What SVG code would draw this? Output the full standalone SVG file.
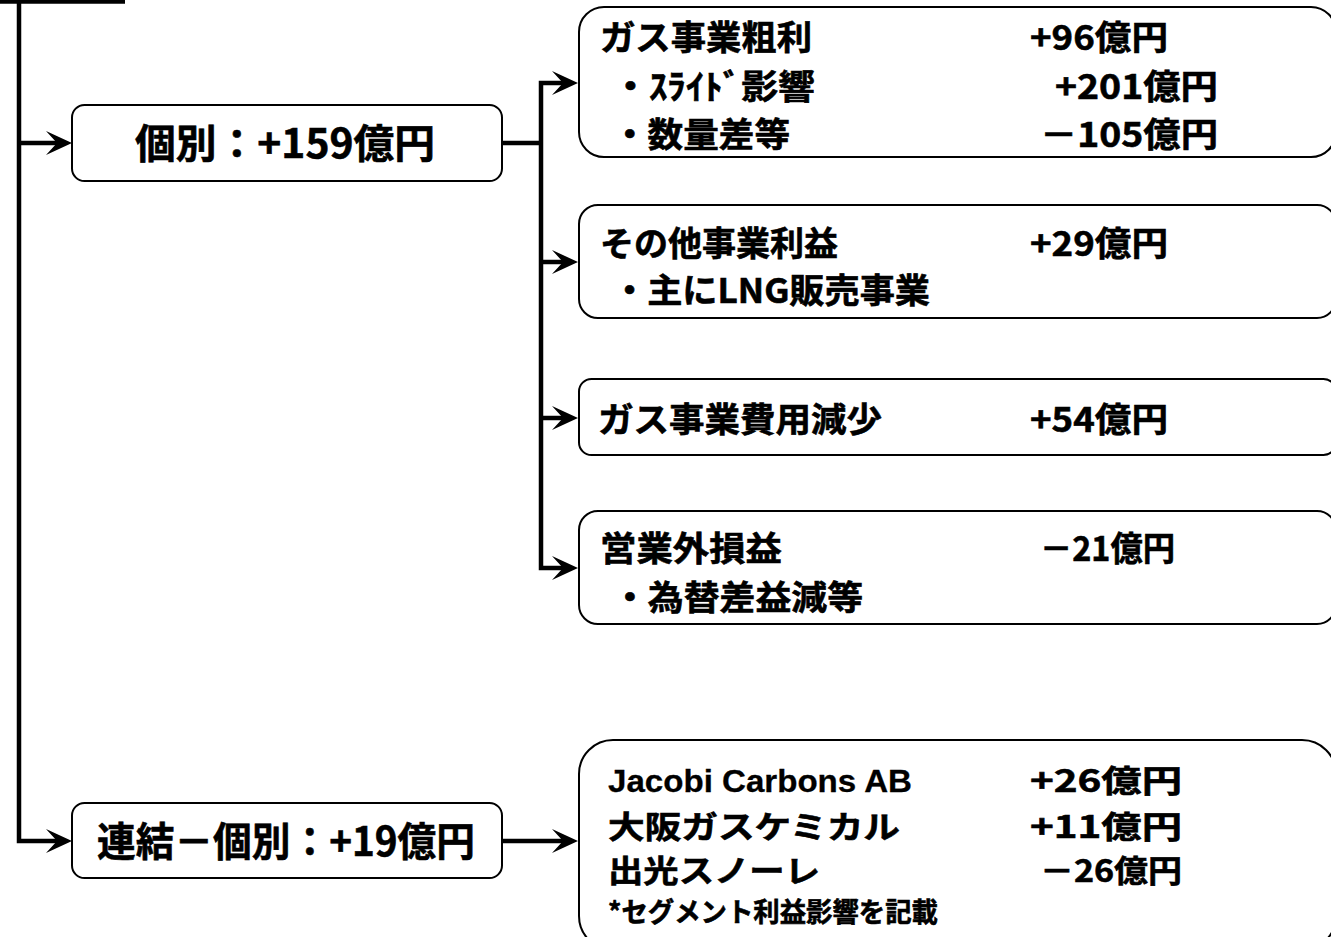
<svg xmlns="http://www.w3.org/2000/svg" width="1331" height="937" viewBox="0 0 1331 937">
<style>
.box{fill:#fff;stroke:#000;stroke-width:2}
.c{fill:none;stroke:#000;stroke-width:4.5;stroke-linejoin:miter;stroke-linecap:butt}
.a{marker-end:url(#ah)}
text{font-family:"Noto Sans CJK JP","Noto Sans",sans-serif;font-weight:bold;fill:#000;stroke:#000;stroke-width:0.6}
.t34{font-size:34px}
.t32{font-size:31px}
.t40{font-size:40px}
.t28{font-size:27px}
.lat{font-family:"Liberation Sans",Arial,sans-serif;font-weight:bold;font-size:31px;stroke-width:0.3}
</style>
<defs>
<marker id="ah" markerUnits="userSpaceOnUse" viewBox="-28 -14 30 28" refX="-14" refY="0" markerWidth="30" markerHeight="28" orient="auto">
<path d="M0,0 L-26,-12 L-15,0 L-26,12 Z" fill="#000"/>
</marker>
</defs>

<g id="connectors">
<path class="c" d="M0,1.5 H125"/>
<path class="c a" d="M19,0 V841 H58"/>
<path class="c a" d="M19,143 H58"/>
<path class="c" d="M502,143 H541"/>
<path class="c a" d="M541,262 V83 H564"/>
<path class="c a" d="M541,262 H564"/>
<path class="c a" d="M541,418 H564"/>
<path class="c a" d="M541,262 V568 H564"/>
<path class="c a" d="M502,841 H564"/>
</g>

<g id="node-kobetsu">
<rect class="box" x="72" y="105" width="430" height="76" rx="12.5"/>
<text class="t40" x="135" y="158" textLength="300" lengthAdjust="spacingAndGlyphs">個別：+159億円</text>
</g>

<g id="node-renketsu">
<rect class="box" x="72" y="803" width="430" height="75" rx="12.5"/>
<text class="t40" x="97" y="856" textLength="378" lengthAdjust="spacingAndGlyphs">連結－個別：+19億円</text>
</g>

<g id="node-gas-gross">
<rect class="box" x="579" y="7" width="757" height="150" rx="25"/>
<text class="t34" x="600" y="50" textLength="212" lengthAdjust="spacingAndGlyphs">ガス事業粗利</text>
<text class="t34" x="1030" y="50" textLength="138" lengthAdjust="spacingAndGlyphs">+96億円</text>
<text class="t34" x="612" y="99" textLength="203" lengthAdjust="spacingAndGlyphs">・ｽﾗｲﾄﾞ影響</text>
<text class="t34" x="1055" y="99" textLength="163" lengthAdjust="spacingAndGlyphs">+201億円</text>
<text class="t34" x="612" y="147" textLength="178" lengthAdjust="spacingAndGlyphs">・数量差等</text>
<text class="t34" x="1040" y="147" textLength="178" lengthAdjust="spacingAndGlyphs">－105億円</text>
</g>

<g id="node-other">
<rect class="box" x="579" y="205" width="757" height="113" rx="19"/>
<text class="t34" x="600" y="256" textLength="238" lengthAdjust="spacingAndGlyphs">その他事業利益</text>
<text class="t34" x="1030" y="256" textLength="138" lengthAdjust="spacingAndGlyphs">+29億円</text>
<text class="t34" x="612" y="303" textLength="318" lengthAdjust="spacingAndGlyphs">・主にLNG販売事業</text>
</g>

<g id="node-cost">
<rect class="box" x="579" y="379" width="757" height="76" rx="12.5"/>
<text class="t34" x="598" y="432" textLength="284" lengthAdjust="spacingAndGlyphs">ガス事業費用減少</text>
<text class="t34" x="1030" y="432" textLength="138" lengthAdjust="spacingAndGlyphs">+54億円</text>
</g>

<g id="node-nonop">
<rect class="box" x="579" y="511" width="757" height="113" rx="19"/>
<text class="t34" x="600" y="561" textLength="182" lengthAdjust="spacingAndGlyphs">営業外損益</text>
<text class="t34" x="1040" y="561" textLength="135" lengthAdjust="spacingAndGlyphs">－21億円</text>
<text class="t34" x="612" y="610" textLength="251" lengthAdjust="spacingAndGlyphs">・為替差益減等</text>
</g>

<g id="node-subsidiaries">
<rect class="box" x="579" y="740" width="757" height="210" rx="34"/>
<text class="lat" x="608" y="792" textLength="304" lengthAdjust="spacingAndGlyphs">Jacobi Carbons AB</text>
<text class="t32" x="1030" y="792" textLength="152" lengthAdjust="spacingAndGlyphs">+26億円</text>
<text class="t32" x="608" y="838" textLength="292" lengthAdjust="spacingAndGlyphs">大阪ガスケミカル</text>
<text class="t32" x="1030" y="838" textLength="152" lengthAdjust="spacingAndGlyphs">+11億円</text>
<text class="t32" x="608" y="882" textLength="212" lengthAdjust="spacingAndGlyphs">出光スノーレ</text>
<text class="t32" x="1040" y="882" textLength="142" lengthAdjust="spacingAndGlyphs">－26億円</text>
<text class="t28" x="608" y="922" textLength="330" lengthAdjust="spacingAndGlyphs">*セグメント利益影響を記載</text>
</g>
</svg>
